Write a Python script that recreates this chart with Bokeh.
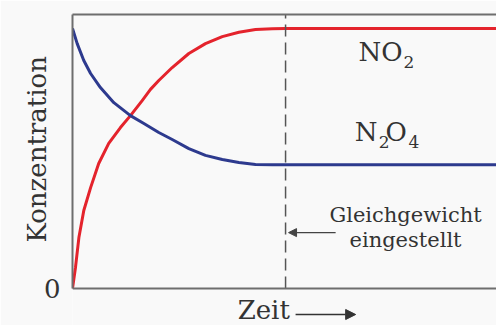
from bokeh.plotting import figure
from bokeh.models import (Range1d, FixedTicker, LinearAxis, Span, Label,
                          Arrow, NormalHead, ColumnDataSource)
from bokeh.embed import file_html
from bokeh.resources import INLINE

# Concentration curves for 2 NO2 <-> N2O4 (arbitrary units, time in arbitrary units)
time_no2 = [0.0, 0.14, 0.30, 0.53, 0.85, 1.23, 1.70, 2.25, 2.72, 3.27, 3.66,
            4.05, 4.68, 5.46, 6.24, 7.03, 7.81, 8.59, 9.38, 10.0, 20.5]
conc_no2 = [0.0, 0.081, 0.196, 0.300, 0.388, 0.481, 0.558, 0.619, 0.665, 0.723,
            0.766, 0.800, 0.850, 0.904, 0.942, 0.969, 0.986, 0.996, 0.999, 1.0, 1.0]

time_n2o4 = [0.0, 0.22, 0.53, 0.85, 1.31, 1.94, 2.72, 3.35, 4.05, 4.68, 5.46,
             6.24, 7.03, 7.81, 8.59, 9.38, 10.0, 20.5]
conc_n2o4 = [1.0, 0.942, 0.877, 0.827, 0.773, 0.715, 0.665, 0.635, 0.600, 0.573,
             0.538, 0.512, 0.496, 0.485, 0.477, 0.476, 0.476, 0.476]

t_equilibrium = 10.0
y_ticks = [0]
y_top = 1.054
t_max = 19.9

FONT = "DejaVu Serif"
TEXT = "#333333"
FRAME = "#6e6e6e"
BG = "#f9f9f9"
NBSP = "\u00a0"

# the plotting frame reaches the bottom of the canvas so that the time caption
# below the zero line can be drawn inside it
p = figure(width=496, height=325, output_backend="svg", toolbar_location=None,
           x_range=Range1d(0, t_max), y_range=Range1d(-0.1423, y_top),
           x_axis_location=None, y_axis_location=None,
           min_border_left=72, min_border_right=0, min_border_top=14,
           min_border_bottom=0, background_fill_color=BG, border_fill_color=BG,
           outline_line_color=None)
p.grid.visible = False

# left axis with only the zero label; leading spaces centre the title on the
# visible part of the axis
yaxis = LinearAxis(ticker=FixedTicker(ticks=y_ticks),
                   axis_label=NBSP * 5 + "Konzentration",
                   bounds=(0, y_top),
                   axis_line_color=FRAME, axis_line_width=2,
                   major_tick_line_color=None, minor_tick_line_color=None,
                   major_tick_out=0, major_tick_in=0, major_label_standoff=12,
                   major_label_text_font=FONT, major_label_text_font_size="26px",
                   major_label_text_color=TEXT,
                   axis_label_text_font=FONT, axis_label_text_font_size="26px",
                   axis_label_text_font_style="normal", axis_label_text_color=TEXT,
                   axis_label_standoff=-11)
p.add_layout(yaxis, "left")

# bare frame line on top
top = LinearAxis(ticker=FixedTicker(ticks=[]), axis_line_color=FRAME,
                 axis_line_width=2, major_tick_line_color=None,
                 minor_tick_line_color=None, major_tick_out=0, major_tick_in=0,
                 major_label_standoff=0, major_label_text_font_size="0px")
p.add_layout(top, "above")
# zero line as the bottom of the frame
p.add_layout(Span(location=0, dimension="width", line_color=FRAME, line_width=2))

src_no2 = ColumnDataSource(dict(t=time_no2, c=conc_no2))
src_n2o4 = ColumnDataSource(dict(t=time_n2o4, c=conc_n2o4))
p.line("t", "c", source=src_no2, line_color="#e4232c", line_width=3,
       line_join="round")
p.line("t", "c", source=src_n2o4, line_color="#2d3a8e", line_width=3,
       line_join="round")

# equilibrium marker
p.segment(x0=[t_equilibrium], y0=[0], x1=[t_equilibrium], y1=[y_top],
          line_color="#555555", line_width=1.5, line_dash="12 6")


def lab(x, y, text, size, align="left"):
    p.add_layout(Label(x=x, y=y, text=text, text_font=FONT,
                       text_font_size=size, text_color=TEXT, text_align=align,
                       text_baseline="alphabetic"))


# NO2
lab(15.49, 0.909, "NO", "26px", "right")
lab(15.54, 0.873, "2", "17px")
# N2O4
lab(14.32, 0.6015, "N", "26px", "right")
lab(14.37, 0.563, "2", "17px")
lab(14.69, 0.6015, "O", "26px")
lab(15.77, 0.563, "4", "17px")

lab(15.63, 0.281, "Gleichgewicht", "21px", "center")
lab(15.63, 0.185, "eingestellt", "21px", "center")
p.add_layout(Arrow(x_start=12.35, y_start=0.215, x_end=10.14, y_end=0.215,
                   line_color="#444444", line_width=1.2,
                   end=NormalHead(size=8, fill_color="#444444",
                                  line_color="#444444")))

# time caption with arrow
lab(7.75, -0.083, "Zeit", "26px")
p.add_layout(Arrow(x_start=10.47, y_start=-0.1, x_end=13.29, y_end=-0.1,
                   line_color="#333333", line_width=1.5,
                   end=NormalHead(size=10, fill_color="#333333",
                                  line_color="#333333")))

open("out.html", "w").write(file_html(p, INLINE))
